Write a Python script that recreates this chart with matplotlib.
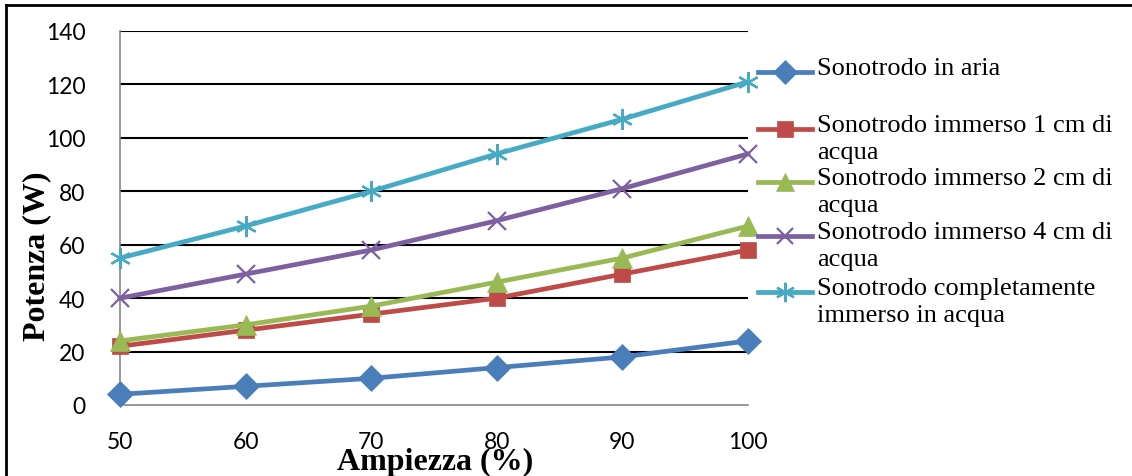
import matplotlib
matplotlib.use("Agg")
import matplotlib.pyplot as plt
from matplotlib.lines import Line2D

# dati
ampiezza = [50, 60, 70, 80, 90, 100]
aria = [4, 7, 10, 14, 18, 24]
immerso_1cm = [22, 28, 34, 40, 49, 58]
immerso_2cm = [24, 30, 37, 46, 55, 67]
immerso_4cm = [40, 49, 58, 69, 81, 94]
completo = [55, 67, 80, 94, 107, 121]

etichette = ["Sonotrodo in aria",
             "Sonotrodo immerso 1 cm di\nacqua",
             "Sonotrodo immerso 2 cm di\nacqua",
             "Sonotrodo immerso 4 cm di\nacqua",
             "Sonotrodo completamente\nimmerso in acqua"]
y_ticks = [0, 20, 40, 60, 80, 100, 120, 140]

colori = ['#4A7EBB', '#BE4B48', '#98B954', '#7D60A0', '#46AAC5']
marker = ['D', 's', '^', 'x', (6, 2, 0)]
msize = [13, 12, 14, 13, 15]
serie = [aria, immerso_1cm, immerso_2cm, immerso_4cm, completo]


def mew(m):
    return 1.6 if m in ('x', (6, 2, 0)) else 0.5


W, H = 1132, 477
fig = plt.figure(figsize=(W / 100, H / 100), dpi=100)
ax = fig.add_axes([120 / W, 1 - 406 / H, (748 - 120) / W, (406 - 32) / H])

for s, c, m, ms in zip(serie, colori, marker, msize):
    ax.plot(ampiezza, s, color=c, linewidth=3.4, marker=m, markersize=ms,
            markeredgewidth=mew(m), markeredgecolor=c, zorder=3, clip_on=False)

ax.set_xlim(50, 100)
ax.set_ylim(0, 140)
ax.set_xticks(ampiezza)
ax.set_yticks(y_ticks)
ax.tick_params(length=0, labelsize=16.5)
ax.tick_params(axis='y', pad=25)
ax.tick_params(axis='x', pad=19)
for lab in ax.get_xticklabels() + ax.get_yticklabels():
    lab.set_fontfamily('Lato')

# griglia orizzontale nera
for v in y_ticks[1:]:
    ax.axhline(v, color='black', linewidth=1.5, zorder=1)
for sp in ['top', 'right']:
    ax.spines[sp].set_visible(False)
ax.spines['left'].set_color('#868686')
ax.spines['bottom'].set_color('#868686')
ax.spines['left'].set_linewidth(1.2)
ax.spines['bottom'].set_linewidth(1.2)

# titoli assi
fig.text(37 / W, 1 - 256 / H, "Potenza (W)", rotation=90, ha='center', va='center',
         fontsize=23, fontweight='bold', family='Liberation Serif')
fig.text(435 / W, 1 - 470 / H, "Ampiezza (%)", ha='center', va='baseline',
         fontsize=23, fontweight='bold', family='Liberation Serif')

# legenda manuale
leg_y = [73, 130, 183, 237, 293]
for lab, c, m, ms, yy in zip(etichette, colori, marker, msize, leg_y):
    yf = 1 - yy / H
    fig.add_artist(Line2D([758 / W, 812 / W], [yf, yf], color=c, linewidth=3.4,
                          transform=fig.transFigure))
    fig.add_artist(Line2D([785 / W], [yf], color=c, marker=m, markersize=ms - 1,
                          markeredgecolor=c, markeredgewidth=mew(m),
                          transform=fig.transFigure))
    fig.text(817 / W, yf + 15 / H, lab, ha='left', va='top', fontsize=19,
             family='Liberation Serif', linespacing=1.3)

# cornice (solo lato superiore e sinistro)
fig.add_artist(Line2D([6 / W, 1], [1 - 6 / H, 1 - 6 / H], color='black', linewidth=2,
                      transform=fig.transFigure))
fig.add_artist(Line2D([6 / W, 6 / W], [0, 1 - 6 / H], color='black', linewidth=2,
                      transform=fig.transFigure))

fig.savefig("out.png", dpi=100)
